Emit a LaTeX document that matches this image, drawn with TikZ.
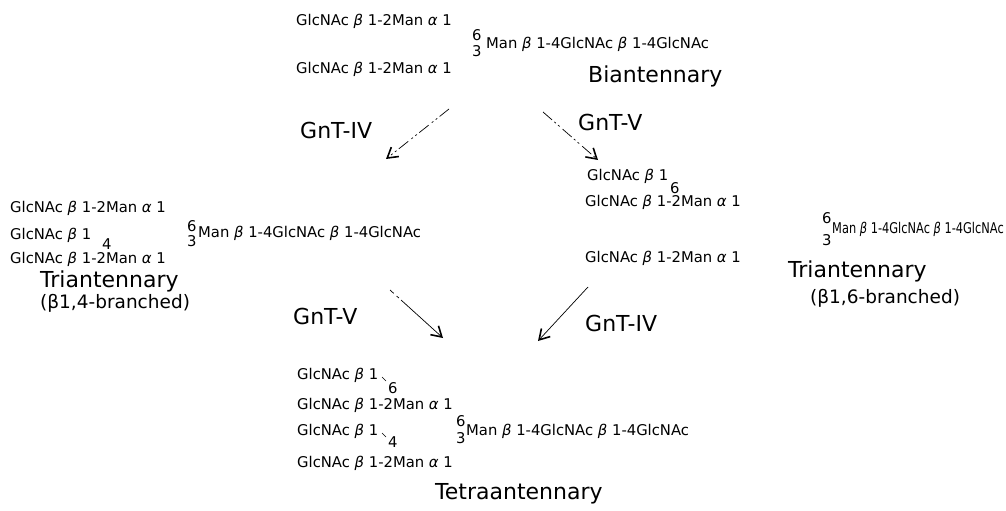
\documentclass[tikz,border=0pt]{standalone}
\usepackage{fontspec}
\setmainfont{DejaVu Sans}
\usepackage{graphicx}
\usetikzlibrary{arrows.meta}
\newcommand\mybeta{{\itshape β}}
\newcommand\myalpha{{\itshape α}}
\newcommand\gnac{GlcNAc \mybeta\ 1-2Man \myalpha\ 1}
\newcommand\chainx{Man \mybeta\ 1-4GlcNAc \mybeta\ 1-4GlcNAc}
\tikzset{
  sm/.style={font=\fontsize{14.8}{16}\selectfont, inner sep=0pt, anchor=west},
  big/.style={font=\fontsize{22}{24}\selectfont, inner sep=0pt, anchor=west},
  mid/.style={font=\fontsize{18.5}{20}\selectfont, inner sep=0pt, anchor=west},
  rxn/.style={line width=0.7pt, -{Straight Barb[length=10pt,width=12pt,line width=1.6pt]}},
  brk/.style={dash pattern=on 12pt off 3pt on 2pt off 3pt on 2pt off 4pt},
  tick/.style={line width=0.5pt}
}
\begin{document}
\begin{tikzpicture}[x=1pt,y=-1pt]
\useasboundingbox (0,0) rectangle (1006,511);
% Biantennary
\node[sm] (b1) at (296,21) {\gnac};
\node[sm] (b6) at (472,35) {6};
\node[sm] (b3) at (472,51) {3};
\node[sm] (bc) at (486,44) {\chainx};
\node[sm] (b2) at (296,69) {\gnac};
\node[big] (bl) at (588,76) {Biantennary};
% arrows from biantennary
\node[big] (e1) at (300,130) {GnT-IV};
\node[big] (e2) at (578,122) {GnT-V};
\coordinate (a1s) at (449,109);
\coordinate (a1e) at (386,159);
\coordinate (a2s) at (543,112);
\coordinate (a2e) at (598,160);
\draw[rxn,brk] (a1s) -- (a1e);
\draw[rxn,brk] (a2s) -- (a2e);
% Left triantennary
\node[sm] (l1) at (10,208) {\gnac};
\node[sm] (l2) at (10,235) {GlcNAc \mybeta\ 1};
\node[sm] (l4) at (102,244) {4};
\node[sm] (l3) at (10,259) {\gnac};
\node[sm] (l6) at (187,226) {6};
\node[sm] (l33) at (187,241) {3};
\node[sm] (lc) at (198,233) {\chainx};
\node[big] (ll) at (40,281) {Triantennary};
\node[mid] (lb) at (40,303) {(β1,4-branched)};
% Right triantennary
\node[sm] (r1) at (587,176) {GlcNAc \mybeta\ 1};
\node[sm] (r6) at (670,188) {6};
\node[sm] (r2) at (585,202) {\gnac};
\node[sm] (r66) at (822,218) {6};
\node[sm] (r33) at (822,240) {3};
\node[sm] (rc) at (832,229) {\scalebox{0.77}[1]{\chainx}};
\node[sm] (r3) at (585,258) {\gnac};
\node[big] (rl) at (788,271) {Triantennary};
\node[mid] (rb) at (810,298) {(β1,6-branched)};
% arrows to tetraantennary
\node[big] (e3) at (293,316) {GnT-V};
\node[big] (e4) at (585,323) {GnT-IV};
\coordinate (a3s) at (390,290);
\coordinate (a3e) at (443,338);
\coordinate (a4s) at (588,287);
\coordinate (a4e) at (538,341);
\draw[rxn,dash pattern=on 5pt off 4pt on 3pt off 3pt on 80pt] (a3s) -- (a3e);
\draw[rxn] (a4s) -- (a4e);
% Tetraantennary
\node[sm] (t1) at (297,375) {GlcNAc \mybeta\ 1};
\coordinate (k1a) at (382,377);
\coordinate (k1b) at (386,381);
\draw[tick] (k1a) -- (k1b);
\node[sm] (t6) at (388,388) {6};
\node[sm] (t2) at (297,405) {\gnac};
\node[sm] (t3) at (297,431) {GlcNAc \mybeta\ 1};
\coordinate (k2a) at (382,433);
\coordinate (k2b) at (386,437);
\draw[tick] (k2a) -- (k2b);
\node[sm] (t4) at (388,442) {4};
\node[sm] (t5) at (297,463) {\gnac};
\node[sm] (t66) at (456,421) {6};
\node[sm] (t33) at (456,438) {3};
\node[sm] (tc) at (466,431) {\chainx};
\node[big] (tl) at (435,494) {Tetraantennary};
\end{tikzpicture}
\end{document}
